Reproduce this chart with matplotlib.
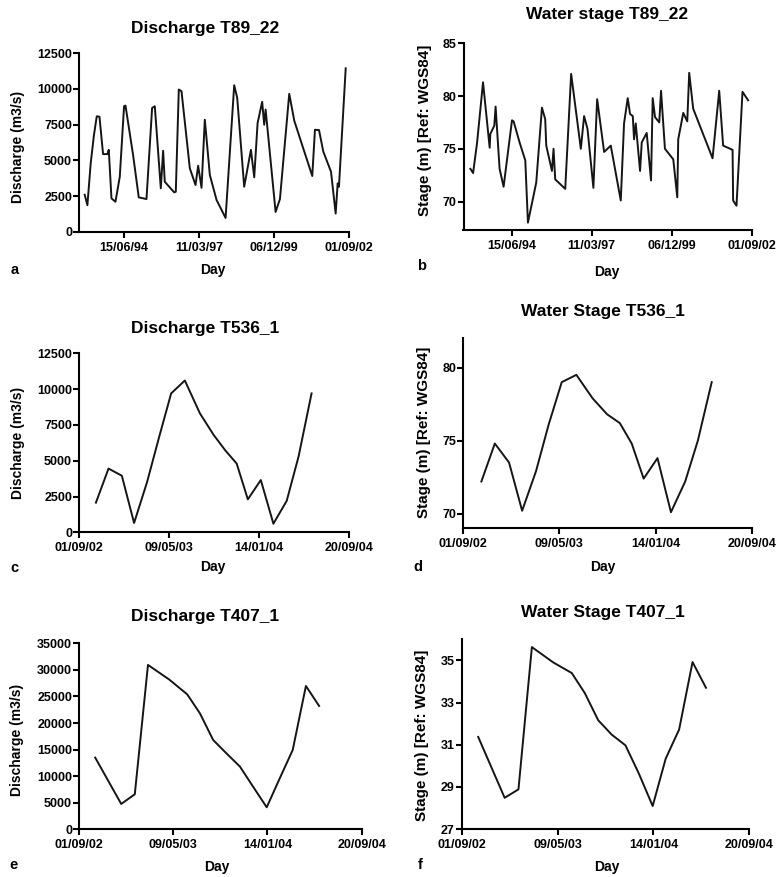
import numpy as np
import pandas as pd
import matplotlib
matplotlib.use("Agg")
import matplotlib.pyplot as plt
import matplotlib.dates as mdates

plt.rcParams['font.family'] = ['Liberation Sans', 'DejaVu Sans']
plt.rcParams['font.weight'] = 'bold'

# T89_22 discharge
a_dates = ["1993-01-06", "1993-02-11", "1993-03-27", "1993-05-10", "1993-06-16", "1993-07-22",
           "1993-09-08", "1993-11-05", "1993-11-23", "1993-12-29", "1994-02-20", "1994-04-19",
           "1994-06-15", "1994-07-04", "1994-10-13", "1994-12-28", "1995-04-10", "1995-06-24",
           "1995-07-30", "1995-10-18", "1995-11-18", "1995-12-10", "1996-04-13", "1996-05-05",
           "1996-06-14", "1996-07-20", "1996-11-08", "1997-01-23", "1997-02-27", "1997-04-13",
           "1997-05-27", "1997-08-02", "1997-10-31", "1997-12-27", "1998-02-28", "1998-06-23",
           "1998-08-02", "1998-11-03", "1999-02-01", "1999-03-17", "1999-05-01", "1999-07-01",
           "1999-07-28", "1999-08-16", "1999-12-27", "2000-02-23", "2000-06-26", "2000-09-01",
           "2001-04-29", "2001-06-04", "2001-07-28", "2001-09-23", "2002-01-04", "2002-03-07",
           "2002-04-03", "2002-04-20", "2002-07-19"]
a_q = [2600, 1870, 4800, 6790, 8080, 8050, 5440, 5440, 5740, 2350, 2110, 3860,
       8780, 8830, 5390, 2420, 2300, 8660, 8780, 3050, 5670, 3510, 2770, 2810,
       9950, 9830, 4450, 3280, 4630, 3090, 7840, 3980, 2230, 1640, 980, 10250,
       9370, 3160, 5740, 3820, 7610, 9090, 7490, 8550, 1400, 2300, 9650, 7770,
       3910, 7140, 7120, 5620, 4210, 1290, 3400, 3160, 11430]

# T89_22 stage
b_dates = ["1993-01-16", "1993-02-19", "1993-04-10", "1993-06-23", "1993-09-14", "1993-09-22",
           "1993-11-11", "1993-11-27", "1994-01-16", "1994-03-07", "1994-06-20", "1994-07-10",
           "1994-09-23", "1994-12-03", "1995-01-05", "1995-04-19", "1995-06-29", "1995-08-09",
           "1995-08-22", "1995-11-01", "1995-11-21", "1995-12-12", "1996-04-15", "1996-06-28",
           "1996-10-27", "1996-12-07", "1997-01-18", "1997-04-02", "1997-05-19", "1997-08-14",
           "1997-11-05", "1998-03-10", "1998-04-20", "1998-06-05", "1998-07-04", "1998-08-07",
           "1998-08-23", "1998-09-13", "1998-11-06", "1998-11-27", "1999-01-28", "1999-03-23",
           "1999-04-13", "1999-05-12", "1999-07-04", "1999-07-26", "1999-09-13", "1999-12-26",
           "2000-02-14", "2000-02-26", "2000-04-29", "2000-06-18", "2000-07-12", "2000-08-31",
           "2001-04-30", "2001-07-22", "2001-09-09", "2002-01-05", "2002-01-12", "2002-02-23",
           "2002-05-09", "2002-07-18"]
b_stage = [73.1, 72.7, 75.6, 81.3, 75.1, 76.4, 77.2, 79.0, 73.1, 71.4, 77.7, 77.6,
           75.6, 73.9, 68.0, 71.8, 78.9, 77.8, 75.3, 72.9, 75.0, 72.1, 71.2, 82.1,
           75.0, 78.1, 76.9, 71.3, 79.7, 74.7, 75.3, 70.1, 77.4, 79.8, 78.3, 78.1,
           75.9, 77.4, 72.9, 75.6, 76.5, 72.0, 79.8, 78.0, 77.5, 80.5, 75.0, 74.0,
           70.4, 75.9, 78.4, 77.6, 82.2, 78.8, 74.1, 80.5, 75.3, 74.9, 70.1, 69.6,
           80.4, 79.6]

# T536_1
cd_dates = ["2002-10-18", "2002-11-22", "2002-12-29", "2003-02-01", "2003-03-09", "2003-04-11",
            "2003-05-15", "2003-06-22", "2003-08-03", "2003-09-10", "2003-10-13", "2003-11-13",
            "2003-12-14", "2004-01-19", "2004-02-23", "2004-03-31", "2004-05-03", "2004-06-08"]
c_q = [2070, 4450, 3950, 650, 3500, 6600, 9700, 10600, 8300, 6800, 5700, 4800,
       2300, 3650, 600, 2200, 5300, 9700]
d_stage = [72.2, 74.8, 73.5, 70.2, 72.9, 76.1, 79.0, 79.5, 77.9, 76.8, 76.2, 74.8,
           72.4, 73.8, 70.1, 72.2, 75.0, 79.0]

# T407_1
ef_dates = ["2002-10-14", "2002-12-22", "2003-01-27", "2003-03-03", "2003-04-28", "2003-06-15",
            "2003-07-19", "2003-08-23", "2003-09-27", "2003-11-02", "2003-12-07", "2004-01-12",
            "2004-02-15", "2004-03-21", "2004-04-25", "2004-05-30"]
e_q = [13490, 4770, 6590, 30930, 28200, 25400, 21800, 16800, 14300, 11800, 8000, 4140,
       9500, 14930, 26970, 23210]
f_stage = [31.37, 28.48, 28.88, 35.63, 34.9, 34.40, 33.45, 32.16, 31.48, 30.97, 29.63, 28.09,
           30.34, 31.72, 34.92, 33.70]

long_ticks = ["1994-06-15", "1997-03-11", "1999-12-06", "2002-09-01"]
short_ticks = ["2002-09-01", "2003-05-09", "2004-01-14", "2004-09-20"]

W, H = 781, 877
fig = plt.figure(figsize=(W / 100, H / 100), dpi=100)


def px_axes(l, t, r, b):
    return fig.add_axes([l / W, 1 - b / H, (r - l) / W, (b - t) / H])


def ftext(x, y, s, **kw):
    fig.text(x / W, 1 - y / H, s, ha='center', va='center', **kw)


def draw(box, dates, vals, xlim, xticks, ylim, yticks, title, tpos, ylab, ylsize, ypos, dpos, letter, lpos):
    ax = px_axes(*box)
    ax.plot(pd.to_datetime(dates), vals, color='#151515', lw=1.4)
    ax.set_xlim(pd.to_datetime(xlim[0]), pd.to_datetime(xlim[1]))
    ax.set_ylim(*ylim)
    ax.set_xticks(pd.to_datetime(xticks))
    ax.xaxis.set_major_formatter(mdates.DateFormatter('%d/%m/%y'))
    ax.set_yticks(yticks)
    for s in ['top', 'right']:
        ax.spines[s].set_visible(False)
    for s in ['left', 'bottom']:
        ax.spines[s].set_linewidth(1.5)
    ax.tick_params(direction='out', length=4, width=1.5, labelsize=9)
    ax.tick_params(axis='y', pad=1)
    ax.tick_params(axis='x', pad=3)
    for lab in ax.get_xticklabels() + ax.get_yticklabels():
        lab.set_fontweight('bold')
    ftext(*tpos, title, fontsize=12.5, fontweight='bold')
    ftext(*ypos, ylab, fontsize=ylsize, fontweight='bold', rotation=90)
    ftext(*dpos, "Day", fontsize=10, fontweight='bold')
    ftext(*lpos, letter, fontsize=10.5, fontweight='bold')
    return ax


long_lim = ("1992-10-22", "2002-09-01")
short_lim = ("2002-09-01", "2004-09-20")
q_lab = "Discharge (m3/s)"
s_lab = "Stage (m) [Ref: WGS84]"

draw((79, 53, 349, 232), a_dates, a_q, long_lim, long_ticks, (0, 12500), np.arange(0, 12501, 2500),
     "Discharge T89_22", (205, 28), q_lab, 10, (18, 147), (213, 270), "a", (15, 270))
draw((463.5, 43.3, 751.7, 230), b_dates, b_stage, long_lim, long_ticks, (67.3, 85), [70, 75, 80, 85],
     "Water stage T89_22", (607, 15), s_lab, 11, (425, 130), (607, 272), "b", (422, 266))
draw((79, 353.3, 349, 532.3), cd_dates, c_q, short_lim, short_ticks, (0, 12500), np.arange(0, 12501, 2500),
     "Discharge T536_1", (205, 328), q_lab, 10, (18, 443), (213, 567), "c", (14, 568))
draw((463.3, 338.3, 751.7, 528.3), cd_dates, d_stage, short_lim, short_ticks, (69, 82), [70, 75, 80],
     "Water Stage T536_1", (603, 312), s_lab, 11, (424, 432), (603, 567), "d", (418, 567))
draw((79, 643.3, 361.7, 829.3), ef_dates, e_q, short_lim, short_ticks, (0, 35000), np.arange(0, 35001, 5000),
     "Discharge T407_1", (205, 617), q_lab, 10, (17, 740), (217, 867), "e", (14, 865))
draw((461.7, 639.3, 749.3, 829), ef_dates, f_stage, short_lim, short_ticks, (27, 36), [27, 29, 31, 33, 35],
     "Water Stage T407_1", (603, 613), s_lab, 11, (422, 735), (607, 867), "f", (420, 865))

fig.savefig("out.png", dpi=100)
